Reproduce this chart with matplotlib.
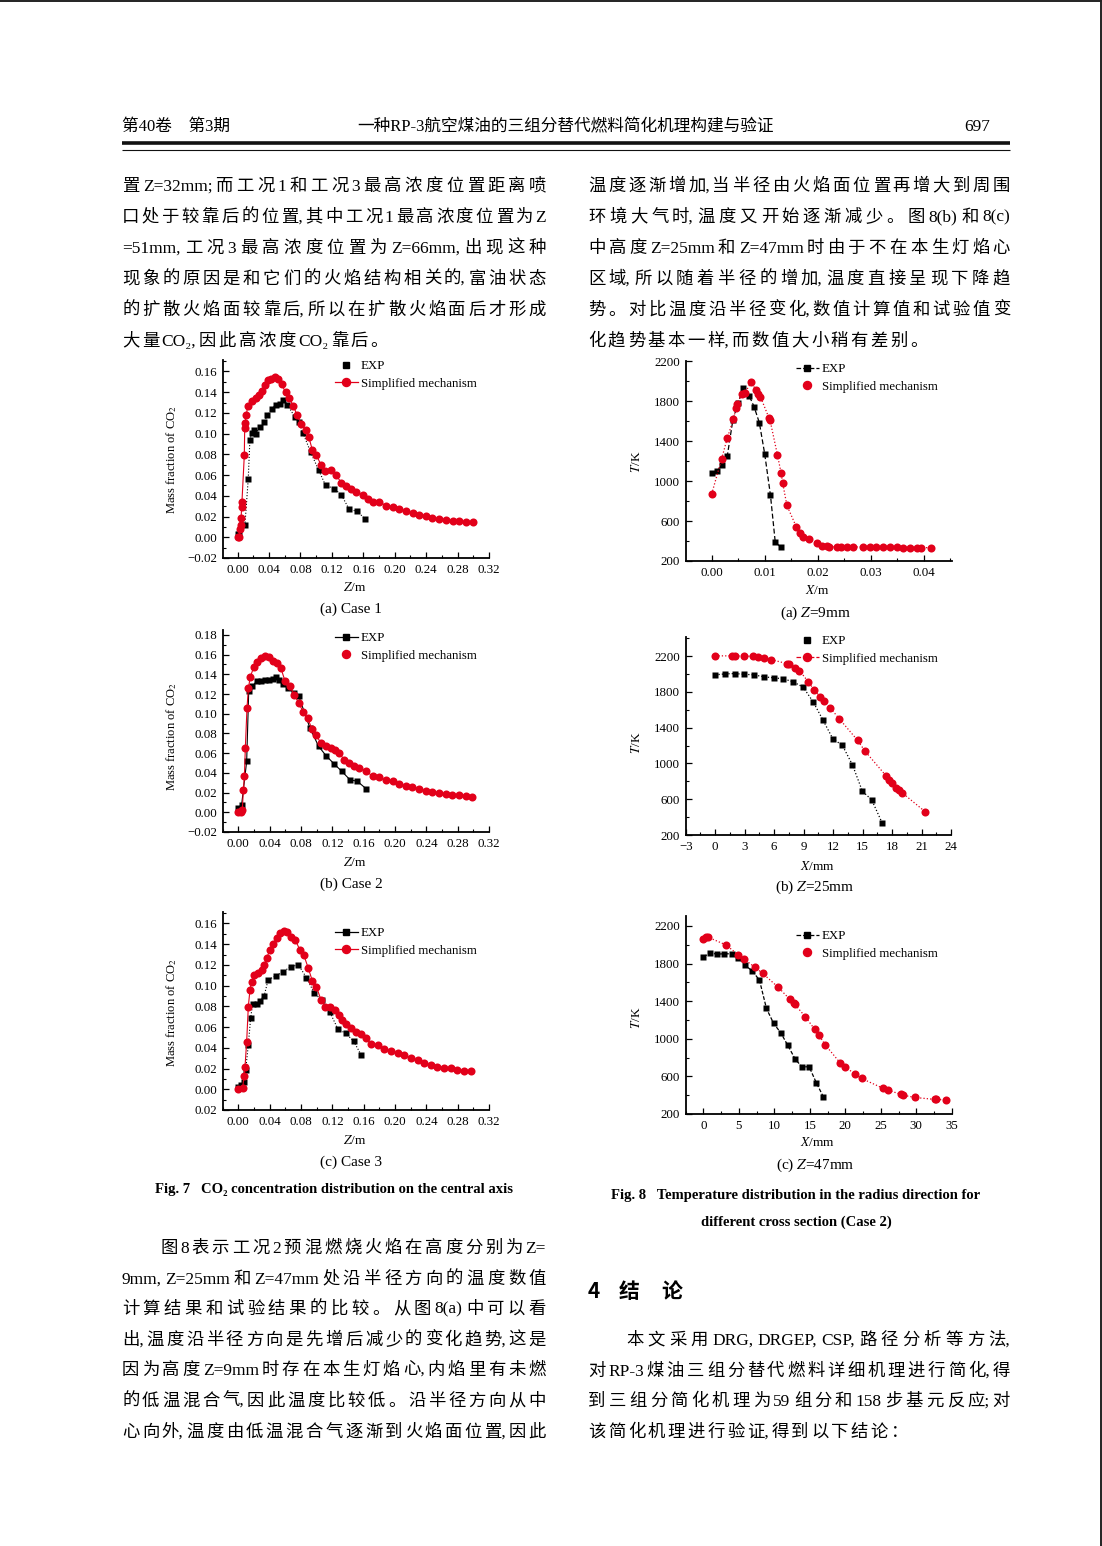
import matplotlib
matplotlib.use('Agg')
import matplotlib.pyplot as plt
from matplotlib.lines import Line2D
from matplotlib.ticker import MultipleLocator, FuncFormatter

plt.rcParams['font.family'] = ['Liberation Serif', 'Noto Sans CJK SC', 'DejaVu Sans']
plt.rcParams['mathtext.fontset'] = 'stix'

# ---------------- data ----------------
# Fig. 7 (a) Case 1
z7a_exp = [0.000, 0.002, 0.0093, 0.0135, 0.0156, 0.018, 0.021, 0.023, 0.028, 0.034, 0.038, 0.0436, 0.0486,
           0.054, 0.058, 0.063, 0.073, 0.078, 0.083, 0.093, 0.103, 0.112, 0.123, 0.132, 0.142, 0.152, 0.162]
y7a_exp = [0.003, 0.003, 0.012, 0.056, 0.094, 0.101, 0.103, 0.100, 0.106, 0.111, 0.118, 0.124, 0.128,
           0.129, 0.132, 0.128, 0.116, 0.111, 0.101, 0.082, 0.065, 0.050, 0.047, 0.041, 0.027, 0.025, 0.018]
z7a_sim = [0.000, 0.002, 0.003, 0.004, 0.0045, 0.005, 0.0055, 0.0085, 0.009, 0.0095, 0.011, 0.013,
           0.0178, 0.023, 0.0275, 0.0305, 0.0347, 0.039, 0.043, 0.047, 0.0516, 0.056, 0.061, 0.066,
           0.0706, 0.0757, 0.081, 0.087, 0.0905, 0.095, 0.100, 0.106, 0.1116, 0.119, 0.1256, 0.132,
           0.138, 0.1446, 0.151, 0.1594, 0.166, 0.172, 0.1805, 0.189, 0.1975, 0.206, 0.2144, 0.2228,
           0.231, 0.2398, 0.248, 0.2567, 0.265, 0.2736, 0.282, 0.2905, 0.299]
y7a_sim = [0.000, 0.000, 0.008, 0.012, 0.019, 0.029, 0.034, 0.079, 0.105, 0.110, 0.118, 0.127,
           0.1316, 0.1345, 0.1377, 0.141, 0.1468, 0.1516, 0.153, 0.1542, 0.1526, 0.1474, 0.140, 0.134,
           0.127, 0.118, 0.1097, 0.103, 0.097, 0.0845, 0.0797, 0.070, 0.0635, 0.0645, 0.0597, 0.0526,
           0.049, 0.0468, 0.0435, 0.041, 0.037, 0.0345, 0.0339, 0.0306, 0.029, 0.0268, 0.0252, 0.0235,
           0.0216, 0.0203, 0.0187, 0.0177, 0.0168, 0.0161, 0.0155, 0.0148, 0.0145]

# Fig. 7 (b) Case 2
z7b_exp = [0.000, 0.0042, 0.0106, 0.0132, 0.018, 0.0234, 0.029, 0.0344, 0.0395, 0.0438, 0.048, 0.0523,
           0.0574, 0.0638, 0.0714, 0.077, 0.0914, 0.1025, 0.112, 0.1224, 0.132, 0.1424, 0.152, 0.163]
y7b_exp = [0.0044, 0.0078, 0.0517, 0.1226, 0.1277, 0.1334, 0.1334, 0.134, 0.134, 0.1355, 0.1368, 0.134,
           0.130, 0.126, 0.121, 0.118, 0.0855, 0.0669, 0.0574, 0.049, 0.0416, 0.0331, 0.0314, 0.024]
z7b_sim = [0.000, 0.003, 0.005, 0.0064, 0.0077, 0.0089, 0.011, 0.0128, 0.0153, 0.0196,
           0.0238, 0.029, 0.0344, 0.0387, 0.0438, 0.049, 0.0544, 0.0595, 0.066, 0.0714,
           0.077, 0.083, 0.0884, 0.094, 0.099, 0.1054, 0.1118, 0.118, 0.1237, 0.1288,
           0.135, 0.1415, 0.148, 0.1543, 0.1628, 0.1713, 0.180, 0.1883, 0.1968, 0.2053,
           0.2138, 0.2223, 0.2308, 0.2393, 0.2478, 0.2563, 0.2648, 0.2733, 0.2818, 0.2903, 0.2988]
y7b_sim = [0.000, 0.000, 0.002, 0.023, 0.0365, 0.0652, 0.1057, 0.126, 0.1378, 0.147,
           0.153, 0.1564, 0.1588, 0.158, 0.1537, 0.1514, 0.146, 0.1334, 0.1277, 0.1193,
           0.1108, 0.1017, 0.0956, 0.0845, 0.0787, 0.0703, 0.0669, 0.0652, 0.0635, 0.0601,
           0.0534, 0.050, 0.0466, 0.0449, 0.0422, 0.0365, 0.0355, 0.0324, 0.0314, 0.0287,
           0.0267, 0.0253, 0.024, 0.022, 0.0206, 0.0196, 0.0186, 0.0179, 0.0172, 0.0162, 0.0152]

# Fig. 7 (c) Case 3
z7c_exp = [0.000, 0.0034, 0.0072, 0.0093, 0.0127, 0.0157, 0.0182, 0.0233, 0.0275, 0.033, 0.038, 0.0475,
           0.0572, 0.067, 0.0767, 0.0869, 0.097, 0.1063, 0.1165, 0.127, 0.1369, 0.147, 0.1568]
y7c_exp = [0.0026, 0.0039, 0.0068, 0.0186, 0.0428, 0.069, 0.082, 0.082, 0.0855, 0.0903, 0.1055, 0.1093,
           0.1135, 0.1183, 0.120, 0.1077, 0.0926, 0.0862, 0.0749, 0.0582, 0.054, 0.0466, 0.0331]
z7c_sim = [0.000, 0.0055, 0.0072, 0.0085, 0.0106, 0.0127, 0.0148, 0.017, 0.0203, 0.0246,
           0.0297, 0.033, 0.036, 0.0403, 0.0445, 0.0487, 0.053, 0.058, 0.0623, 0.0678,
           0.0729, 0.0784, 0.0835, 0.089, 0.0945, 0.0996, 0.1055, 0.111, 0.1174, 0.1229,
           0.1284, 0.1326, 0.1377, 0.144, 0.1504, 0.1568, 0.1631, 0.1695, 0.178, 0.1864,
           0.1949, 0.2034, 0.2119, 0.2203, 0.2288, 0.2373, 0.2458, 0.2542, 0.2627, 0.2712,
           0.2797, 0.2881, 0.2966]
y7c_sim = [0.000, 0.001, 0.0132, 0.0219, 0.046, 0.0797, 0.0958, 0.1039, 0.1103, 0.1125,
           0.1148, 0.120, 0.1264, 0.1344, 0.1399, 0.1457, 0.1505, 0.1527, 0.1514, 0.1472,
           0.144, 0.1344, 0.1296, 0.1174, 0.1045, 0.099, 0.0862, 0.0797, 0.0797, 0.0765,
           0.0717, 0.0669, 0.0627, 0.0588, 0.0556, 0.0531, 0.0492, 0.0434, 0.0428, 0.0389,
           0.037, 0.0347, 0.0331, 0.0299, 0.028, 0.0257, 0.0235, 0.0219, 0.0209, 0.0203,
           0.019, 0.018, 0.0174]

# Fig. 8 (a) Z=9mm
x8a_exp = [0.000, 0.00107, 0.002, 0.00296, 0.004, 0.005, 0.006, 0.0071, 0.008, 0.009, 0.010, 0.0111, 0.012, 0.0131]
t8a_exp = [1083, 1106, 1166, 1257, 1613, 1787, 1938, 1854, 1747, 1586, 1277, 858, 388, 338]
x8a_sim = [0.000, 0.0019, 0.00296, 0.0041, 0.0046, 0.0048, 0.0057, 0.0063, 0.0075, 0.0083,
           0.0088, 0.0092, 0.0108, 0.011, 0.0124, 0.0131, 0.0134, 0.0142, 0.016, 0.0167,
           0.0173, 0.0184, 0.0199, 0.0209, 0.0217, 0.0222, 0.0236, 0.0245, 0.0255, 0.0267,
           0.0286, 0.0299, 0.0311, 0.0324, 0.0336, 0.0349, 0.0362, 0.0374, 0.0387, 0.0396, 0.0413]
t8a_sim = [871, 1227, 1435, 1620, 1737, 1771, 1878, 1888, 1995, 1915,
           1878, 1848, 1636, 1616, 1267, 1083, 982, 757, 539, 478,
           445, 418, 385, 354, 348, 344, 341, 341, 341, 341,
           341, 338, 338, 338, 338, 338, 334, 334, 334, 334, 334]

# Fig. 8 (b) Z=25mm
x8b_exp = [0, 0.95, 1.97, 2.98, 3.97, 4.98, 6.0, 6.95, 7.93, 8.95, 9.97, 10.95, 11.97, 12.95, 13.97, 14.98, 15.93, 16.98]
t8b_exp = [1991, 2002, 2006, 1998, 1991, 1969, 1958, 1947, 1914, 1854, 1690, 1490, 1277, 1202, 985, 690, 593, 338]
x8b_sim = [0, 1.7, 2.03, 2.98, 3.83, 4.4, 4.98, 5.66, 7.29, 7.5, 8.14, 8.58, 9.49, 10.1, 10.7, 11.1, 11.7,
           12.64, 14.5, 15.25, 17.39, 17.73, 18.0, 18.4, 18.68, 19.0, 21.4]
t8b_sim = [2204, 2204, 2204, 2200, 2200, 2193, 2181, 2163, 2118, 2114, 2069, 2039, 1912, 1820, 1744, 1695, 1623,
           1499, 1258, 1138, 862, 817, 779, 727, 705, 675, 458]

# Fig. 8 (c) Z=47mm
x8c_exp = [0, 0.99, 1.97, 2.96, 3.99, 4.93, 5.92, 6.9, 7.9, 8.88, 9.9, 10.9, 11.9, 12.96, 13.9, 14.9, 15.9, 16.9]
t8c_exp = [1874, 1910, 1901, 1904, 1904, 1863, 1780, 1720, 1624, 1323, 1163, 1064, 929, 780, 702, 702, 535, 383]
x8c_sim = [0, 0.38, 0.7, 3.19, 4.93, 5.73, 7.28, 8.36, 10.57, 12.2, 12.77, 12.9, 14.37, 15.7, 16.3, 17.2,
           19.26, 20.0, 21.4, 22.3, 25.36, 26.07, 27.85, 28.1, 29.8, 32.64, 32.8, 34.2]
t8c_sim = [2065, 2079, 2079, 1998, 1891, 1848, 1759, 1695, 1546, 1418, 1376, 1365, 1234, 1099, 1035, 933,
           745, 702, 621, 578, 472, 454, 408, 401, 376, 355, 355, 351]

# page text
header_left = "第40卷　第3期"
header_title = "一种RP-3航空煤油的三组分替代燃料简化机理构建与验证"
page_no = "697"

text_left_top = ["置 Z=32mm; 而工况 1 和工况 3 最高浓度位置距离喷",
                 "口处于较靠后的位置, 其中工况 1 最高浓度位置为 Z",
                 "=51mm, 工况 3 最高浓度位置为 Z=66mm, 出现这种",
                 "现象的原因是和它们的火焰结构相关的, 富油状态",
                 "的扩散火焰面较靠后, 所以在扩散火焰面后才形成",
                 "大量 CO₂, 因此高浓度 CO₂ 靠后。"]
text_right_top = ["温度逐渐增加, 当半径由火焰面位置再增大到周围",
                  "环境大气时, 温度又开始逐渐减少。图 8(b) 和 8(c)",
                  "中高度 Z=25mm 和 Z=47mm 时由于不在本生灯焰心",
                  "区域, 所以随着半径的增加, 温度直接呈现下降趋",
                  "势。对比温度沿半径变化, 数值计算值和试验值变",
                  "化趋势基本一样, 而数值大小稍有差别。"]
text_left_bottom = ["图 8 表示工况 2 预混燃烧火焰在高度分别为 Z=",
                    "9mm, Z=25mm 和 Z=47mm 处沿半径方向的温度数值",
                    "计算结果和试验结果的比较。从图 8(a) 中可以看",
                    "出, 温度沿半径方向是先增后减少的变化趋势, 这是",
                    "因为高度 Z=9mm 时存在本生灯焰心, 内焰里有未燃",
                    "的低温混合气, 因此温度比较低。沿半径方向从中",
                    "心向外, 温度由低温混合气逐渐到火焰面位置, 因此"]
text_right_bottom = ["本文采用 DRG, DRGEP, CSP, 路径分析等方法,",
                     "对 RP-3 煤油三组分替代燃料详细机理进行简化, 得",
                     "到三组分简化机理为 59 组分和 158 步基元反应; 对",
                     "该简化机理进行验证, 得到以下结论："]

# ---------------- figure ----------------
W, H = 1102, 1546
fig = plt.figure(figsize=(W / 100, H / 100), dpi=100)
RED = '#e2001a'
renderer = fig.canvas.get_renderer()


def fx(x):
    return x / W


def fy(y):
    return 1 - y / H


def make_ax(l, t, r, b):
    return fig.add_axes([fx(l), fy(b), (r - l) / W, (b - t) / H])


def style_ax(ax, xlim, ylim, xmaj, xmin, yticks, ymin, xfmt, yfmt):
    ax.set_xlim(xlim)
    ax.patch.set_alpha(0)
    for s in ['top', 'right']:
        ax.spines[s].set_visible(False)
    for s in ['left', 'bottom']:
        ax.spines[s].set_linewidth(1.3)
    ax.xaxis.set_major_locator(MultipleLocator(xmaj))
    ax.xaxis.set_minor_locator(MultipleLocator(xmin))
    ax.set_yticks(yticks)
    ax.yaxis.set_minor_locator(MultipleLocator(ymin))
    ax.xaxis.set_major_formatter(FuncFormatter(xfmt))
    ax.yaxis.set_major_formatter(FuncFormatter(yfmt))
    ax.set_ylim(ylim)
    ax.tick_params(which='major', direction='in', length=4, width=0.9, labelsize=9.3, pad=4)
    ax.tick_params(which='minor', direction='in', length=2.2, width=0.8)


def add_legend(ax, handles, labels, x, y):
    ax.legend(handles, labels, loc='upper left', bbox_to_anchor=(fx(x), fy(y)),
              bbox_transform=fig.transFigure, frameon=False, fontsize=9.3,
              handlelength=1.75, handletextpad=0.25, labelspacing=0.42, borderpad=0,
              borderaxespad=0)


def h_marker(color, marker, ms):
    return Line2D([], [], color=color, marker=marker, markersize=ms, linestyle='none')


def h_line(color, marker, ms, ls):
    return Line2D([], [], color=color, marker=marker, markersize=ms, linestyle=ls, linewidth=0.9)


f2 = lambda v, p: f"{v:.2f}".replace('-', '\u2212')
f2abs = lambda v, p: f"{abs(v):.2f}"
fint = lambda v, p: f"{v:.0f}".replace('-', '\u2212')

SQ, CI = 5.0, 5.8
LBL = 'Simplified mechanism'
ylab7 = 'Mass fraction of CO$_2$'

# ---- Fig 7a ----
ax = make_ax(222.7, 360, 489, 558)
ax.plot(z7a_exp, y7a_exp, color='black', ls=':', lw=0.8, marker='s', ms=SQ, mec='none')
ax.plot(z7a_sim, y7a_sim, color=RED, ls='-', lw=0.8, marker='o', ms=CI, mec='none')
style_ax(ax, (-0.019, 0.32), (-0.02, 0.171), 0.04, 0.02, [-0.02 + 0.02 * i for i in range(10)], 0.01, f2, f2)
add_legend(ax, [h_marker('black', 's', SQ), h_line(RED, 'o', CI, '-')], ['EXP', LBL], 335, 360)

# ---- Fig 7b ----
ax = make_ax(222.7, 630, 489, 832)
ax.plot(z7b_exp, y7b_exp, color='black', ls='-', lw=0.8, marker='s', ms=SQ, mec='none')
ax.plot(z7b_sim, y7b_sim, color=RED, ls='-', lw=0.8, marker='o', ms=CI, mec='none')
style_ax(ax, (-0.02, 0.32), (-0.02, 0.185), 0.04, 0.02, [-0.02 + 0.02 * i for i in range(11)], 0.01, f2, f2)
add_legend(ax, [h_line('black', 's', SQ, '-'), h_marker(RED, 'o', CI)], ['EXP', LBL], 335, 632)

# ---- Fig 7c ----
ax = make_ax(222.7, 912, 489, 1110)
ax.plot(z7c_exp, y7c_exp, color='black', ls=':', lw=0.8, marker='s', ms=SQ, mec='none')
ax.plot(z7c_sim, y7c_sim, color=RED, ls='-', lw=0.8, marker='o', ms=CI, mec='none')
style_ax(ax, (-0.02, 0.32), (-0.02, 0.171), 0.04, 0.02, [-0.02 + 0.02 * i for i in range(10)], 0.01, f2, f2abs)
add_legend(ax, [h_line('black', 's', SQ, '-'), h_line(RED, 'o', CI, '-')], ['EXP', LBL], 335, 927)

# ---- Fig 8a ----
ax = make_ax(685.7, 361, 951.7, 561)
ax.plot(x8a_exp, t8a_exp, color='black', ls=(0, (4, 2)), lw=0.9, marker='s', ms=SQ, mec='none')
ax.plot(x8a_sim, t8a_sim, color=RED, ls=':', lw=0.9, marker='o', ms=CI, mec='none')
style_ax(ax, (-0.0049, 0.0453), (200, 2205), 0.01, 0.005, list(range(200, 2201, 400)), 200, f2, fint)
add_legend(ax, [h_line('black', 's', SQ, '--'), h_marker(RED, 'o', CI)], ['EXP', LBL], 796, 363)

# ---- Fig 8b ----
ax = make_ax(685.7, 637, 951, 835)
ax.plot(x8b_exp, t8b_exp, color='black', ls=':', lw=0.9, marker='s', ms=SQ, mec='none')
ax.plot(x8b_sim, t8b_sim, color=RED, ls=':', lw=0.9, marker='o', ms=CI, mec='none')
style_ax(ax, (-3, 24), (200, 2415), 3, 1.5, list(range(200, 2201, 400)), 200, fint, fint)
add_legend(ax, [h_marker('black', 's', SQ), h_line(RED, 'o', CI, '--')], ['EXP', LBL], 796, 635)

# ---- Fig 8c ----
ax = make_ax(685.7, 916, 951.7, 1114)
ax.plot(x8c_exp, t8c_exp, color='black', ls=(0, (3, 1.5)), lw=0.9, marker='s', ms=SQ, mec='none')
ax.plot(x8c_sim, t8c_sim, color=RED, ls=':', lw=0.9, marker='o', ms=CI, mec='none')
style_ax(ax, (-2.5, 35), (200, 2306), 5, 2.5, list(range(200, 2201, 400)), 200, fint, fint)
add_legend(ax, [h_line('black', 's', SQ, '--'), h_marker(RED, 'o', CI)], ['EXP', LBL], 796, 930)

# axis labels and sub-captions
for yc in (460, 737, 1013):
    fig.text(fx(172), fy(yc), ylab7, rotation=90, ha='center', va='center', fontsize=9)
for yc in (462, 743, 1018):
    fig.text(fx(637), fy(yc), '$T$/K', rotation=90, ha='center', va='center', fontsize=9.5)
for yc in (588, 862, 1140):
    fig.text(fx(355), fy(yc), '$Z$/m', ha='center', va='center', fontsize=9.5)
fig.text(fx(817), fy(591), '$X$/m', ha='center', va='center', fontsize=9.5)
fig.text(fx(817), fy(866), '$X$/mm', ha='center', va='center', fontsize=9.5)
fig.text(fx(817), fy(1143), '$X$/mm', ha='center', va='center', fontsize=9.5)
fig.text(fx(351), fy(609), '(a) Case 1', ha='center', va='center', fontsize=11)
fig.text(fx(351), fy(884), '(b) Case 2', ha='center', va='center', fontsize=11)
fig.text(fx(351), fy(1162), '(c) Case 3', ha='center', va='center', fontsize=11)
fig.text(fx(815), fy(613), '(a) $Z$=9mm', ha='center', va='center', fontsize=11)
fig.text(fx(815), fy(887), '(b) $Z$=25mm', ha='center', va='center', fontsize=11)
fig.text(fx(815), fy(1165), '(c) $Z$=47mm', ha='center', va='center', fontsize=11)

fig.text(fx(334), fy(1190), 'Fig. 7   CO₂ concentration distribution on the central axis',
         ha='center', va='center', fontsize=10.5, fontweight='bold')
fig.text(fx(796), fy(1195), 'Fig. 8   Temperature distribution in the radius direction for',
         ha='center', va='center', fontsize=10.5, fontweight='bold')
fig.text(fx(796), fy(1222), 'different cross section (Case 2)',
         ha='center', va='center', fontsize=10.5, fontweight='bold')

# header
fig.text(fx(122), fy(127), header_left, ha='left', va='center', fontsize=12)
fig.text(fx(566), fy(127), header_title, ha='center', va='center', fontsize=12)
fig.text(fx(990), fy(127), page_no, ha='right', va='center', fontsize=12.5)
fig.add_artist(Line2D([fx(122), fx(1010)], [fy(142.5), fy(142.5)], color='#111111', lw=2.6,
                      solid_capstyle='butt'))
fig.add_artist(Line2D([fx(122), fx(1010)], [fy(149.5), fy(149.5)], color='#111111', lw=0.8,
                      solid_capstyle='butt'))
# scan border
fig.add_artist(Line2D([0, 1], [fy(0.8), fy(0.8)], color='#222222', lw=1.4))
fig.add_artist(Line2D([fx(1100.5), fx(1100.5)], [0, 1], color='#222222', lw=1.4))


# body text, justified token by token
BODY_FS = 12.5


def tokenize(s):
    out, cur = [], ''
    for ch in s:
        if ch == ' ':
            if cur:
                out.append(cur)
                cur = ''
        elif ch in ',;' and cur == '' and out:
            out[-1] += ch
        elif ord(ch) < 128 or ch == '₂':
            cur += ch
        else:
            if cur:
                out.append(cur)
                cur = ''
            out.append(ch)
    if cur:
        out.append(cur)
    return out


def put_line(s, x0, yc, width, justify=True, indent=0, fs=BODY_FS):
    toks = tokenize(s)
    arts, ws = [], []
    for t in toks:
        a = fig.text(0, 0, t, fontsize=fs, va='baseline', ha='left')
        ws.append(a.get_window_extent(renderer).width)
        arts.append(a)
    avail = width - indent
    gap = (avail - sum(ws)) / (len(toks) - 1) if (justify and len(toks) > 1) else 2.5
    x = x0 + indent
    base = yc + 0.38 * fs * 100 / 72
    for a, w in zip(arts, ws):
        a.set_position((fx(x), fy(base)))
        x += w + gap


def put_block(lines, x0, ycs, width, last_justify=False, first_indent=0):
    for i, (s, yc) in enumerate(zip(lines, ycs)):
        last = i == len(lines) - 1
        put_line(s, x0, yc, width, justify=(not last) or last_justify,
                 indent=first_indent if i == 0 else 0)


top_ys = [184, 215, 246, 277, 308, 339]
put_block(text_left_top, 122, top_ys, 424)
put_block(text_right_top, 588, top_ys, 422)
put_block(text_left_bottom, 122, [1246, 1277, 1307, 1338, 1368, 1399, 1430], 424,
          last_justify=True, first_indent=38)
put_block(text_right_bottom, 588, [1338, 1369, 1399, 1430], 422, first_indent=38)

# section heading
for tok, x in (('4', 588), ('结', 619), ('论', 661)):
    fig.text(fx(x), fy(1292), tok, ha='left', va='center', fontsize=15, fontweight='bold',
             family=['Noto Sans CJK SC', 'DejaVu Sans'])

fig.savefig('out.png', dpi=100)
